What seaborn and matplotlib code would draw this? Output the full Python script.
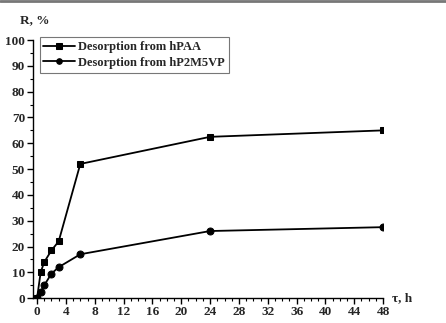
import matplotlib
matplotlib.use("Agg")
import matplotlib.pyplot as plt
from matplotlib.ticker import MultipleLocator
import seaborn as sns
import pandas as pd

time_h = [0, 0.5, 1, 2, 3, 6, 24, 48]
hpaa = [0, 10, 14, 18.5, 22, 52, 62.5, 65]
hp2m5vp = [0, 2.5, 5, 9.5, 12, 17, 26, 27.5]
series_names = ["Desorption from hPAA", "Desorption from hP2M5VP"]

df = pd.concat([
    pd.DataFrame({"t": time_h, "R": hpaa, "series": series_names[0]}),
    pd.DataFrame({"t": time_h, "R": hp2m5vp, "series": series_names[1]}),
])

sns.set_style("ticks")
plt.rcParams["font.family"] = ["Liberation Serif", "DejaVu Serif"]
plt.rcParams["font.weight"] = "bold"

fig = plt.figure(figsize=(4.46, 3.23), dpi=100)
ax = fig.add_axes([0.075, 0.077, 0.784, 0.799])

sns.lineplot(data=df, x="t", y="R", hue="series", style="series",
             markers=["s", "o"], dashes=False, palette=["black", "black"],
             markersize=5, linewidth=1.3, markeredgecolor="black", ax=ax,
             sort=False)

ax.set_xlim(-0.5, 48)
ax.set_ylim(0, 100)
ax.xaxis.set_major_locator(MultipleLocator(4))
ax.xaxis.set_minor_locator(MultipleLocator(1))
ax.yaxis.set_major_locator(MultipleLocator(10))
ax.yaxis.set_minor_locator(MultipleLocator(5))
ax.tick_params(axis="both", which="major", direction="out", length=4, width=1,
               labelsize=9.5, pad=2, color="black")
ax.tick_params(axis="both", which="minor", direction="out", length=2, width=0.8,
               color="black")
for lbl in ax.get_xticklabels() + ax.get_yticklabels():
    lbl.set_fontweight("bold")
for s in ["top", "right"]:
    ax.spines[s].set_visible(False)
for s in ["left", "bottom"]:
    ax.spines[s].set_linewidth(1)
    ax.spines[s].set_color("black")

ax.set_xlabel("")
ax.set_ylabel("")
fig.text(20 / 446, 1 - 20 / 323, "R, %", fontsize=9.5, fontweight="bold",
         va="center", ha="left")
fig.text(392 / 446, 1 - 298 / 323, "τ, h", fontsize=9.5, fontweight="bold",
         va="center", ha="left")

leg = ax.legend(loc="upper left", bbox_to_anchor=(0.0, 1.035), frameon=True,
                fancybox=False, edgecolor="#555555", handlelength=2.5,
                handletextpad=0.3, borderpad=0.3, labelspacing=0.3,
                prop={"size": 9, "weight": "bold"})
leg.get_frame().set_linewidth(0.8)
for h in leg.legend_handles:
    h.set_markersize(4)

fig.add_artist(plt.Line2D([0, 1], [0.997, 0.997], color="#777777", linewidth=2,
                          transform=fig.transFigure))

fig.savefig("out.png", dpi=100)
